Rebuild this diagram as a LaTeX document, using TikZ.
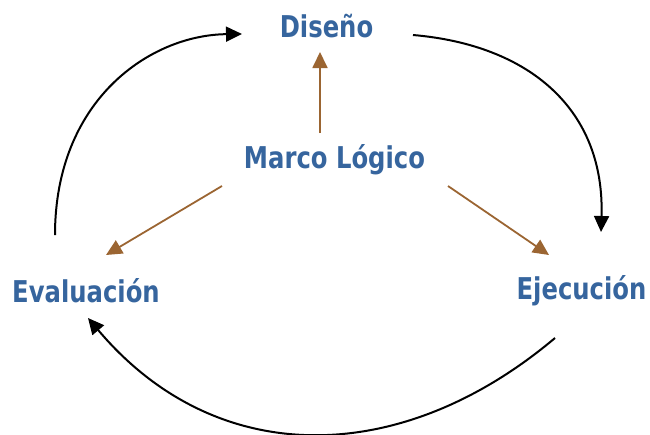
\documentclass[tikz,border=0pt]{standalone}
\usepackage{fontspec}
\setmainfont{DejaVu Sans Condensed}[BoldFont={DejaVu Sans Condensed Bold},BoldFeatures={FakeStretch=0.9}]
\usepackage{tikz}
\usetikzlibrary{calc,positioning,arrows.meta}
\definecolor{titleblue}{RGB}{54,101,158}
\definecolor{arrowbrown}{RGB}{155,101,50}
\tikzset{
node distance=3cm, % overridden below
phase/.style={text=titleblue, font=\bfseries\fontsize{30}{32}\selectfont, inner sep=0pt}, % the four labels
link/.style={draw=arrowbrown, line width=1.8pt, -{Triangle[length=16pt,width=15pt]}}, % brown arrows from the centre
cycle/.style={draw=black, line width=2pt, -{Triangle[length=16pt,width=15pt]}}, % black loop
}

\begin{document}
\begin{tikzpicture}[x=1pt,y=-1pt,on grid]
        \useasboundingbox (0,0) rectangle (650,434);
        \node[phase] (marco) at (334.5,160) {Marco Lógico};
        \node[phase] (dis)  [above left=134pt and 8pt of marco]  {Diseño};
        \node[phase] (eval) [below left=131pt and 248.5pt of marco]  {Evaluación};
        \node[phase] (ejec) [below right=131pt and 247pt of marco]  {Ejecución};
        % centre to the three phases
        \draw[link] ($(marco)+(-14.5,-27)$) -- ($(dis)+(-6.5,26)$);
        \draw[link] ($(marco)+(-112.5,26)$) -- ($(eval)+(20,-36)$);
        \draw[link] ($(marco)+(113.5,26)$) -- ($(ejec)+(-32.5,-36)$);
        % the cycle
        \draw[cycle] ($(dis)+(86.5,9)$) .. controls +(117,10) and +(4,-122) .. ($(ejec)+(19.5,-59)$);
        \draw[cycle] ($(ejec)+(-26.5,47)$) .. controls +(-153,129) and +(129,153) .. ($(eval)+(2,27)$);
        \draw[cycle] ($(eval)+(-31,-56)$) .. controls +(0,-135) and +(-92,1) .. ($(dis)+(-84.5,8)$);
\end{tikzpicture}
\end{document}
